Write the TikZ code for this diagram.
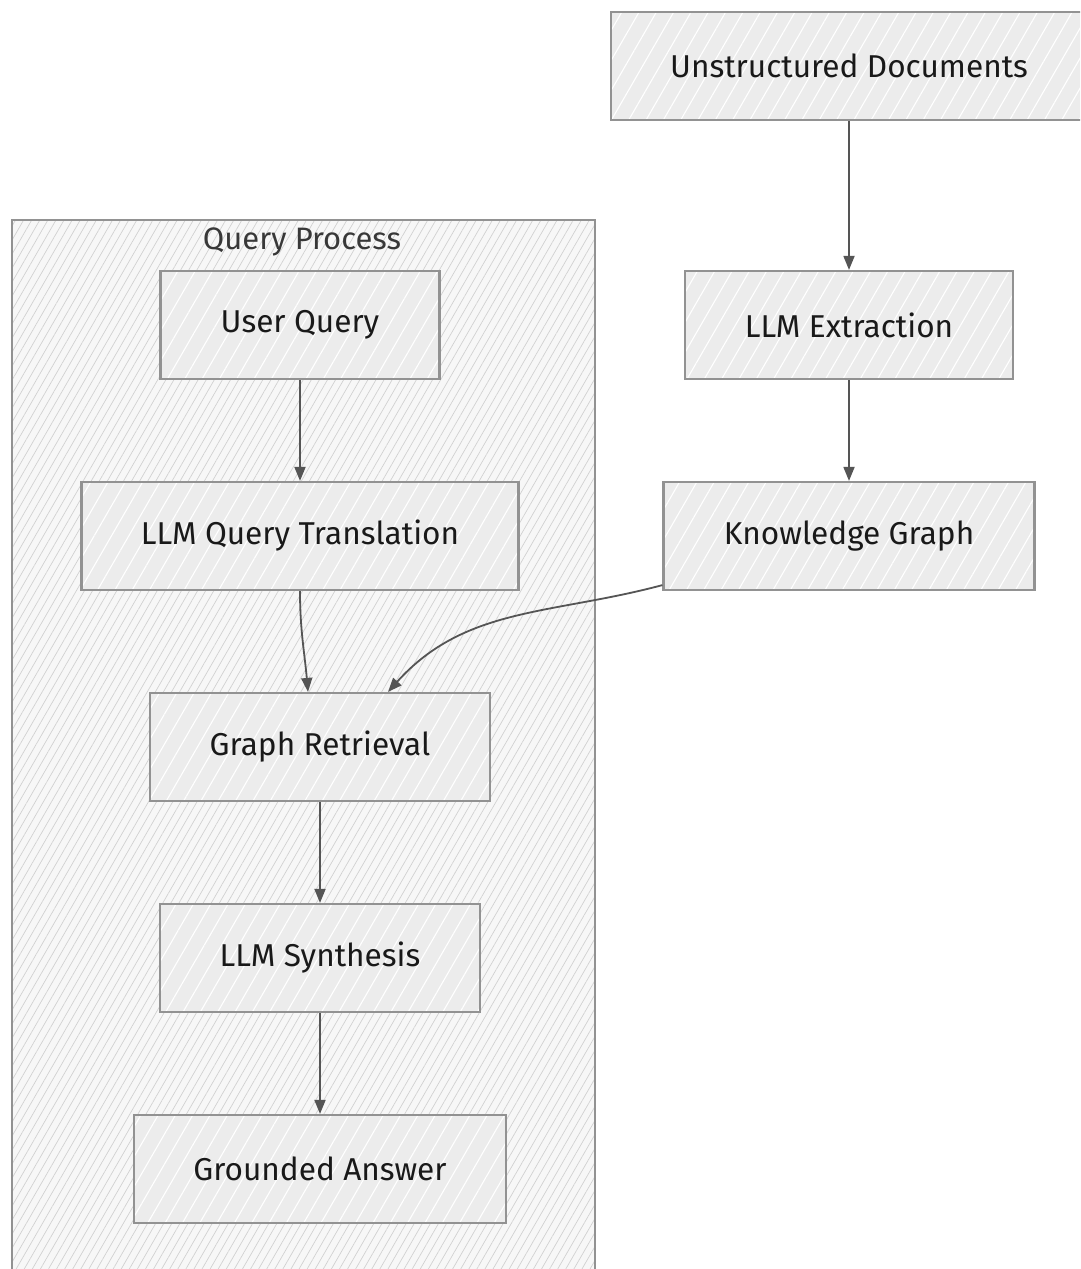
\documentclass[tikz,border=0pt]{standalone}
\usepackage{fontspec}
\setmainfont{Fira Sans}
\usetikzlibrary{arrows.meta,patterns.meta}
\definecolor{boxfill}{HTML}{ECECEC}
\definecolor{boxline}{HTML}{929292}
\definecolor{clusterfill}{HTML}{F7F7F7}
\definecolor{arrowgray}{HTML}{555555}
\tikzset{box/.style = {draw=boxline, line width=2.2pt, minimum height=108pt,
                       text=black!90, font=\fontsize{31.6}{38}\selectfont,
                       preaction={fill=boxfill},
                       preaction={pattern={Lines[angle=60,distance=15pt,line width=1.1pt]}, pattern color=white}}}
\tikzset{cluster/.style = {draw=boxline, line width=2pt,
                       preaction={fill=clusterfill},
                       preaction={pattern={Lines[angle=60,distance=7pt,line width=0.7pt]}, pattern color=black!18}}}
\tikzset{edge/.style = {draw=arrowgray, line width=1.8pt, -{Triangle[length=14pt,width=11pt]}}}
\begin{document}
\begin{tikzpicture}[x=1pt,y=-1pt]
                \useasboundingbox (0,0) rectangle (1080,1269);
                \clip (0,0) rectangle (1080,1269);
                \fill[white] (0,0) rectangle (1080,1269);
                % query side
                \node[cluster, minimum width=583pt, minimum height=1070pt, anchor=north west] (qp) at (11,219) {};
                \node[text=black!78, font=\fontsize{31}{36}\selectfont] (qptitle) at (302,242) {Query Process};
                \node[box, minimum width=279pt] (uq) at (300,325) {User Query};
                \node[box, minimum width=437pt] (lqt) at (300,536) {LLM Query Translation};
                \node[box, minimum width=340pt] (gr) at (320,747) {Graph Retrieval};
                \node[box, minimum width=320pt] (ls) at (320,958) {LLM Synthesis};
                \node[box, minimum width=372pt] (ga) at (320,1169) {Grounded Answer};
                % indexing side
                \node[box, minimum width=476pt] (ud) at (849,66) {Unstructured Documents};
                \node[box, minimum width=328pt] (le) at (849,325) {LLM Extraction};
                \node[box, minimum width=371pt] (kg) at (849,536) {Knowledge Graph};
                \draw[edge] (ud) -- (le);
                \draw[edge] (le) -- (kg);
                \draw[edge] (uq) -- (lqt);
                \draw[edge] (lqt.south) to[out=-90,in=95] ([xshift=-12pt]gr.north);
                \draw[edge] ([yshift=6pt]kg.south west) to[out=195,in=48] ([xshift=68pt]gr.north);
                \draw[edge] (gr) -- (ls);
                \draw[edge] (ls) -- (ga);
\end{tikzpicture}
\end{document}
